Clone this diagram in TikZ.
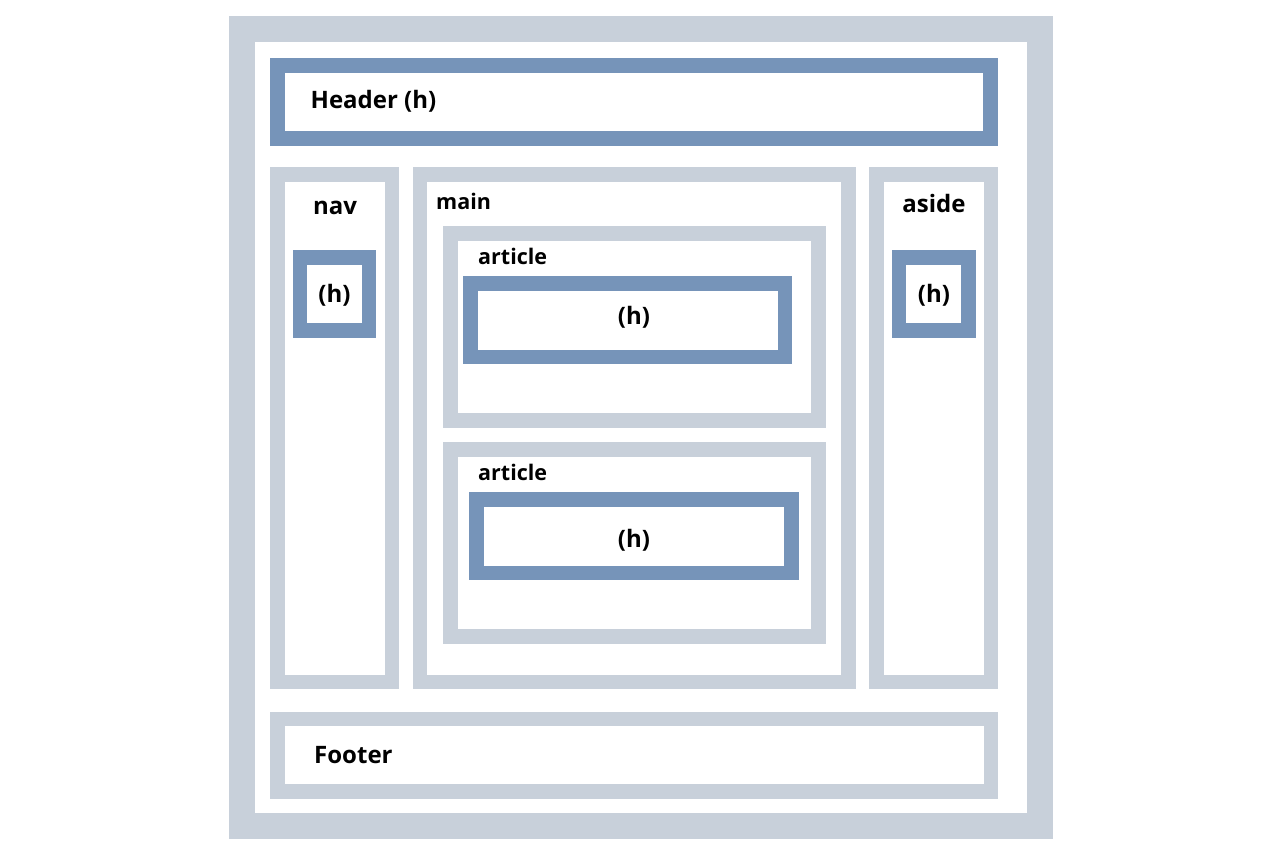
\documentclass[tikz,border=0pt]{standalone}
\usepackage{fontspec}
\setmainfont{Open Sans}
\definecolor{lightbox}{HTML}{C8D0DA}
\definecolor{darkbox}{HTML}{7694B9}
\tikzset{
  outerbox/.style={draw=lightbox, line width=26pt},
  lightframe/.style={draw=lightbox, line width=14.5pt},
  darkframe/.style={draw=darkbox, line width=14.5pt},
  lbl/.style={inner sep=0pt, font=\fontsize{24}{28}\selectfont\bfseries, text=black},
  slbl/.style={inner sep=0pt, font=\fontsize{21.5}{25}\selectfont\bfseries, text=black},
}
\begin{document}
\begin{tikzpicture}[x=1pt,y=-1pt]
\useasboundingbox (0,0) rectangle (1280,853);
% page
\draw[outerbox] (242,29) rectangle (1040,826);
% header
\draw[darkframe, line width=15pt] (277.5,65.5) rectangle (990.5,138.5);
% nav / main / aside
\draw[lightframe] (277.5,174.5) rectangle (392,682);
\draw[lightframe] (420,174.5) rectangle (848.5,682);
\draw[lightframe] (876.5,174.5) rectangle (991,682);
% articles
\draw[lightframe] (450.5,233.5) rectangle (818.5,420.5);
\draw[lightframe] (450.5,449.5) rectangle (818.5,636.5);
% headings
\draw[darkframe] (300,257.5) rectangle (369,330.5);
\draw[darkframe] (899,257.5) rectangle (968.5,330.5);
\draw[darkframe] (470.5,283.5) rectangle (785,357);
\draw[darkframe] (476.5,499.5) rectangle (791.5,573);
% footer
\draw[lightframe] (277.5,719) rectangle (991,791.5);
% labels
\node[lbl, anchor=base west] (theader) at (310.5,108.5) {Header (h)};
\node[lbl, anchor=base] (tnav) at (335,214.5) {nav};
\node[slbl, anchor=base west] (tmain) at (436,210) {main};
\node[lbl, anchor=base] (taside) at (934,213) {aside};
\node[lbl, anchor=base] (tnavh) at (334.5,302) {(h)};
\node[lbl, anchor=base] (tasideh) at (934,302.5) {(h)};
\node[slbl, anchor=base west] (tart1) at (478,264.5) {article};
\node[lbl, anchor=base] (tart1h) at (634,324) {(h)};
\node[slbl, anchor=base west] (tart2) at (478,480.5) {article};
\node[lbl, anchor=base] (tart2h) at (634,547) {(h)};
\node[lbl, anchor=base west] (tfooter) at (314,763.5) {Footer};
\end{tikzpicture}
\end{document}
